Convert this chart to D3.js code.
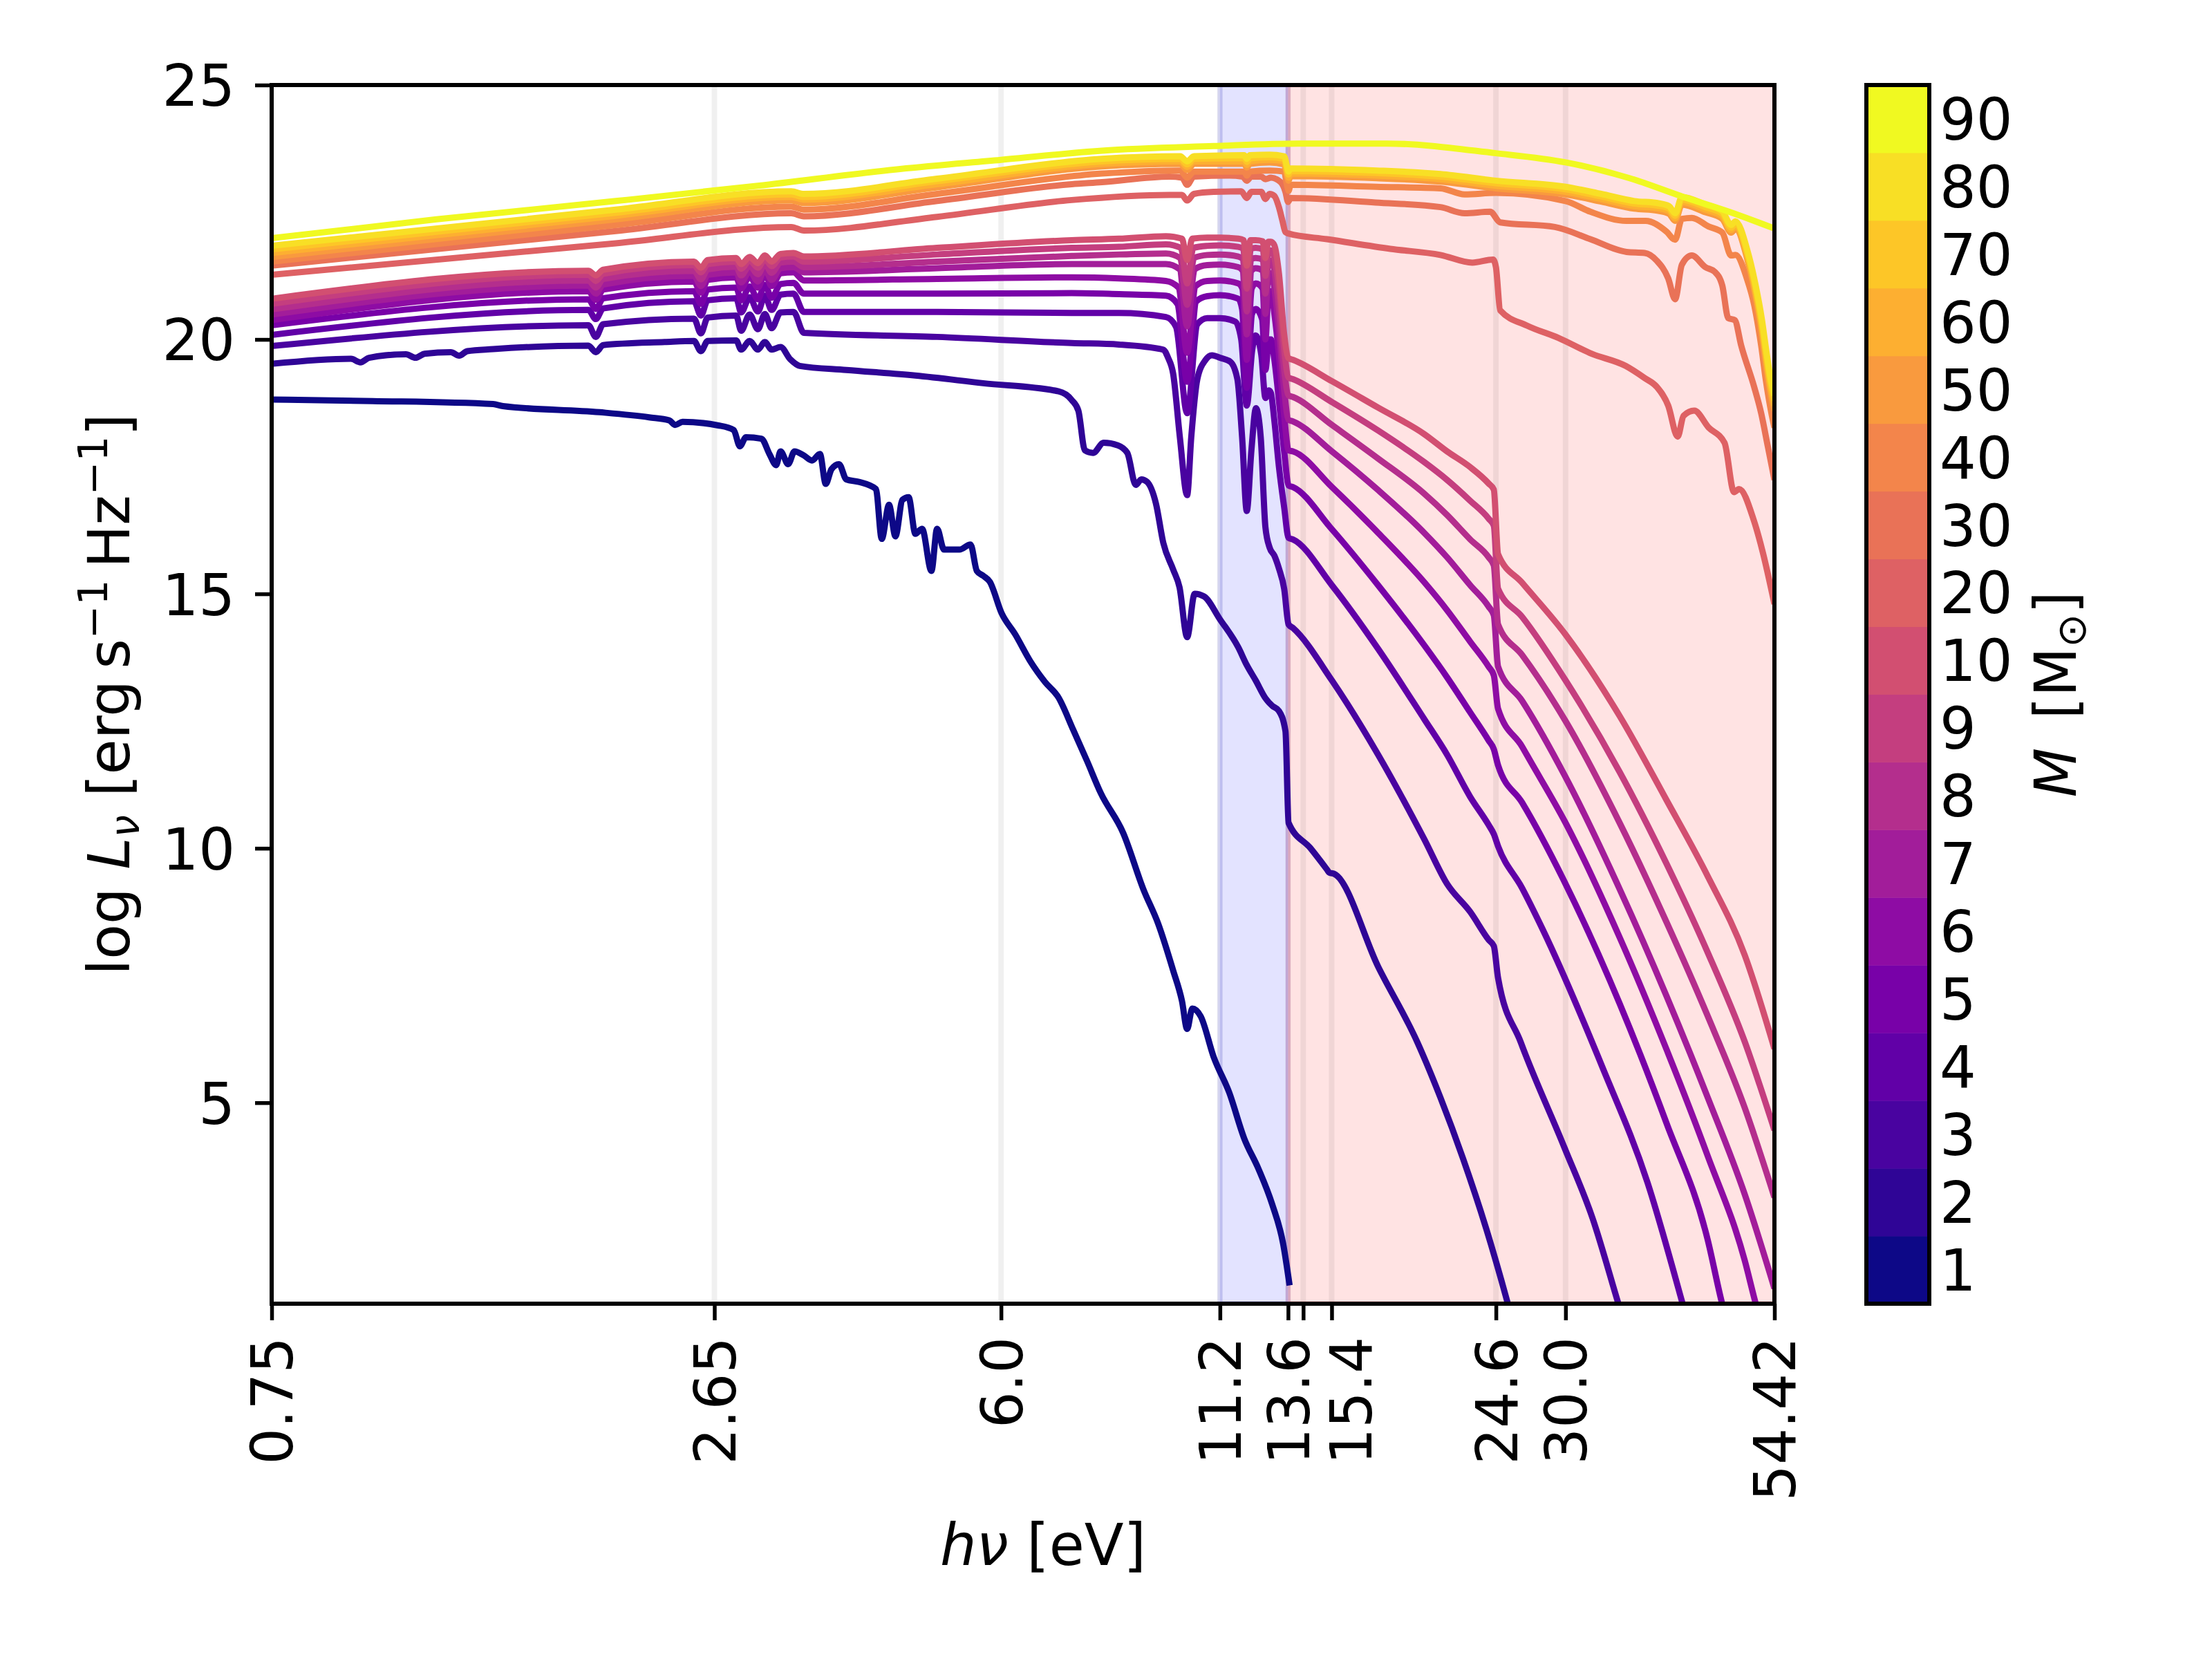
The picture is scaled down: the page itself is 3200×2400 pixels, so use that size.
<!DOCTYPE html>
<html>
<head>
<meta charset="utf-8">
<script src="https://cdn.jsdelivr.net/npm/d3@7"></script>
<style>
  body { margin: 0; background: #fff; }
  text { font-family: "DejaVu Sans", sans-serif; }
</style>
</head>
<body>
<div id="chart"></div>
<script>
// stellar masses shown by the colour bar (M_sun)
const masses = [1, 2, 3, 4, 5, 6, 7, 8, 9, 10, 20, 30, 40, 50, 60, 70, 80, 90];

// x ticks (eV) and labels, y ticks, vertical guide lines, shaded bands
const xTicks = [0.75, 2.65, 6.0, 11.2, 13.6, 14.2, 15.4, 24.6, 30.0, 54.42];
const xTickLabels = ["0.75", "2.65", "6.0", "11.2", "13.6", "", "15.4", "24.6", "30.0", "54.42"];
const yTicks = [5, 10, 15, 20, 25];
const guideLines = [2.65, 6.0, 11.2, 13.6, 14.2, 15.4, 24.6, 30.0];
const lwBand = [11.2, 13.6];
const euvBand = [13.6, 54.42];

// spectra: [h nu (eV), log L_nu]
const lum_1 = [[0.75,18.82],[1.0,18.79],[1.41,18.73],[1.45,18.69],[1.91,18.57],[2.2,18.47],[2.33,18.41],[2.37,18.32],[2.42,18.38],[2.68,18.31],[2.8,18.22],[2.85,17.9],[2.9,18.08],[3.03,18.05],[3.1,17.75],[3.16,17.53],[3.2,17.8],[3.27,17.55],[3.33,17.8],[3.42,17.72],[3.5,17.62],[3.58,17.75],[3.64,17.16],[3.7,17.45],[3.78,17.55],[3.86,17.25],[4.0,17.2],[4.2,17.06],[4.27,16.08],[4.36,16.75],[4.44,16.13],[4.53,16.85],[4.61,16.9],[4.7,16.18],[4.79,16.28],[4.92,15.45],[5.0,16.28],[5.1,15.87],[5.33,15.87],[5.5,15.97],[5.6,15.45],[5.71,15.35],[5.81,15.24],[6.01,14.62],[6.25,14.2],[6.52,13.68],[6.8,13.27],[7.07,12.96],[7.37,12.33],[7.67,11.71],[7.97,11.09],[8.5,10.3],[9.0,9.2],[9.4,8.5],[9.8,7.6],[10.05,7.0],[10.2,6.45],[10.35,6.85],[10.6,6.7],[11.0,5.9],[11.5,5.2],[12.0,4.3],[12.5,3.7],[13.0,3.0],[13.41,2.23],[13.66,1.41]];
const lum_2 = [[0.75,19.52],[0.94,19.62],[0.966,19.55],[0.99,19.64],[1.1,19.71],[1.13,19.64],[1.16,19.72],[1.25,19.75],[1.28,19.68],[1.31,19.77],[1.41,19.81],[1.85,19.88],[1.89,19.75],[1.93,19.89],[2.3,19.95],[2.5,19.97],[2.55,19.77],[2.6,19.97],[2.82,19.98],[2.86,19.8],[2.93,19.97],[3.0,19.8],[3.06,19.95],[3.12,19.8],[3.2,19.85],[3.29,19.61],[3.38,19.48],[3.86,19.4],[4.7,19.29],[5.7,19.14],[7.07,18.98],[7.34,18.81],[7.48,18.6],[7.62,17.82],[7.8,17.77],[8.04,17.97],[8.37,17.92],[8.6,17.77],[8.81,17.14],[8.95,17.25],[9.1,17.2],[9.33,16.78],[9.53,16.0],[9.8,15.48],[9.98,15.13],[10.2,14.15],[10.42,15.0],[10.7,14.95],[11.2,14.5],[11.8,13.95],[12.09,13.6],[12.4,13.3],[12.75,12.95],[13.0,12.8],[13.25,12.7],[13.5,12.3],[13.62,10.5],[14.5,10.0],[15.2,9.58],[15.3,9.52],[15.5,9.5],[17.6,7.66],[19.66,6.19],[21.0,5.1],[22.4,3.9],[23.9,2.55],[25.4,1.1],[26.5,0.0]];
const lum_3 = [[0.75,19.87],[1.85,20.28],[1.89,20.05],[1.93,20.3],[2.5,20.41],[2.55,20.12],[2.6,20.43],[2.82,20.47],[2.86,20.17],[2.93,20.49],[3.0,20.2],[3.06,20.5],[3.12,20.22],[3.2,20.53],[3.32,20.54],[3.42,20.13],[5.0,20.05],[7.34,19.93],[8.4,19.9],[9.53,19.8],[9.66,19.64],[9.8,19.33],[9.99,18.08],[10.2,16.94],[10.32,18.08],[10.5,19.22],[10.74,19.59],[10.95,19.69],[11.2,19.64],[11.54,19.56],[11.77,19.22],[11.93,18.08],[12.09,16.63],[12.25,17.82],[12.41,18.65],[12.58,18.08],[12.75,16.31],[12.91,15.9],[13.08,15.75],[13.25,15.5],[13.45,15.1],[13.62,14.4],[13.79,14.33],[15.41,13.3],[17.58,11.84],[20.05,10.18],[21.4,9.3],[22.86,8.75],[24.1,8.2],[24.45,8.08],[24.75,7.45],[26.4,6.19],[29.9,4.12],[32.4,2.73],[34.8,1.1],[36.5,0.0]];
const lum_4 = [[0.75,20.09],[1.85,20.58],[1.89,20.4],[1.93,20.61],[2.5,20.75],[2.55,20.47],[2.6,20.77],[2.82,20.81],[2.86,20.53],[2.93,20.83],[3.0,20.55],[3.06,20.86],[3.12,20.58],[3.2,20.88],[3.32,20.9],[3.42,20.54],[5.0,20.54],[7.34,20.52],[8.4,20.52],[9.6,20.44],[9.88,20.25],[10.2,18.55],[10.5,20.3],[10.8,20.42],[11.2,20.42],[11.7,20.35],[11.9,20.0],[12.09,18.7],[12.28,19.8],[12.4,20.08],[12.6,19.7],[12.75,18.85],[12.88,19.0],[12.95,18.95],[13.08,18.4],[13.25,17.5],[13.45,16.7],[13.62,16.1],[13.79,16.07],[15.41,15.17],[17.58,13.92],[20.05,12.54],[21.4,11.84],[22.86,11.01],[24.09,10.46],[24.45,10.28],[24.75,10.04],[26.5,9.22],[28.1,8.41],[33.3,5.71],[37.9,3.43],[41.8,1.1],[44.0,-0.2]];
const lum_5 = [[0.75,20.28],[1.85,20.79],[1.89,20.6],[1.93,20.81],[2.5,20.95],[2.55,20.7],[2.6,20.98],[2.82,21.02],[2.86,20.77],[2.93,21.04],[3.0,20.79],[3.06,21.07],[3.12,20.82],[3.2,21.09],[3.32,21.11],[3.42,20.9],[5.0,20.9],[7.34,20.91],[8.4,20.89],[9.6,20.86],[9.92,20.7],[10.2,19.17],[10.47,20.75],[10.8,20.85],[11.2,20.87],[11.8,20.8],[11.93,20.6],[12.09,19.05],[12.27,20.5],[12.4,20.6],[12.63,20.4],[12.75,19.4],[12.88,20.0],[12.95,20.0],[13.08,19.6],[13.25,18.8],[13.45,17.8],[13.62,17.13],[13.79,17.1],[15.41,16.27],[17.58,15.17],[20.05,13.99],[21.4,13.36],[22.86,12.67],[24.09,12.12],[24.45,11.95],[24.75,11.63],[26.5,10.9],[30.0,9.3],[35.0,6.95],[40.0,4.6],[45.0,2.3],[46.8,1.1],[50.0,-0.4]];
const lum_6 = [[0.75,20.38],[1.85,20.95],[1.89,20.78],[1.93,20.98],[2.5,21.14],[2.55,20.92],[2.6,21.17],[2.82,21.22],[2.86,21.0],[2.93,21.24],[3.0,21.02],[3.06,21.27],[3.12,21.05],[3.2,21.3],[3.32,21.32],[3.42,21.16],[5.0,21.19],[7.34,21.22],[8.4,21.2],[9.6,21.15],[9.95,21.02],[10.2,19.74],[10.45,21.05],[10.8,21.15],[11.2,21.16],[11.8,21.1],[11.94,21.0],[12.09,19.6],[12.26,21.0],[12.4,21.1],[12.65,21.0],[12.75,20.0],[12.87,20.95],[12.95,20.95],[13.08,20.5],[13.25,19.7],[13.45,18.5],[13.62,17.82],[13.79,17.8],[15.41,17.1],[17.58,16.2],[20.05,15.23],[21.4,14.68],[22.86,14.06],[24.09,13.57],[24.45,13.4],[24.75,12.74],[26.5,12.0],[27.1,11.73],[30.0,10.5],[35.0,8.25],[40.0,6.05],[45.0,3.95],[50.0,1.9],[51.5,1.1],[54.42,-0.2]];
const lum_7 = [[0.75,20.49],[1.85,21.06],[1.89,20.9],[1.93,21.08],[2.5,21.25],[2.55,21.05],[2.6,21.27],[2.82,21.32],[2.86,21.12],[2.93,21.34],[3.0,21.14],[3.06,21.37],[3.12,21.17],[3.2,21.4],[3.32,21.42],[3.42,21.32],[5.0,21.4],[7.34,21.48],[8.4,21.48],[9.6,21.48],[9.98,21.38],[10.2,20.26],[10.42,21.38],[10.8,21.46],[11.2,21.47],[11.8,21.42],[11.95,21.35],[12.09,20.1],[12.25,21.35],[12.4,21.4],[12.66,21.35],[12.75,20.5],[12.86,21.3],[12.95,21.3],[13.08,21.0],[13.25,20.2],[13.45,19.0],[13.62,18.42],[13.79,18.39],[15.41,17.8],[17.58,17.04],[20.05,16.2],[21.4,15.72],[22.86,15.17],[24.09,14.75],[24.45,14.58],[24.75,13.57],[26.5,12.9],[30.0,11.4],[35.0,9.2],[40.0,7.1],[45.0,5.1],[50.0,3.2],[54.42,1.35]];
const lum_8 = [[0.75,20.59],[1.85,21.16],[1.89,21.02],[1.93,21.19],[2.5,21.35],[2.55,21.18],[2.6,21.38],[2.82,21.43],[2.86,21.26],[2.93,21.45],[3.0,21.28],[3.06,21.48],[3.12,21.31],[3.2,21.51],[3.32,21.53],[3.42,21.42],[5.0,21.53],[7.34,21.64],[8.4,21.67],[9.6,21.69],[10.0,21.6],[10.2,20.68],[10.4,21.6],[10.8,21.66],[11.2,21.67],[11.8,21.63],[11.96,21.58],[12.09,20.55],[12.24,21.58],[12.4,21.6],[12.66,21.57],[12.75,20.9],[12.86,21.55],[12.95,21.55],[13.08,21.35],[13.25,20.6],[13.45,19.4],[13.62,18.9],[13.79,18.87],[15.41,18.32],[17.58,17.66],[20.05,16.97],[21.4,16.55],[22.86,16.07],[24.09,15.72],[24.45,15.56],[24.75,14.4],[26.5,13.8],[30.0,12.5],[35.0,10.5],[40.0,8.55],[45.0,6.7],[50.0,4.9],[54.42,3.14]];
const lum_9 = [[0.75,20.7],[1.85,21.27],[1.89,21.15],[1.93,21.29],[2.5,21.46],[2.55,21.32],[2.6,21.48],[2.82,21.53],[2.86,21.39],[2.93,21.55],[3.0,21.41],[3.06,21.58],[3.12,21.44],[3.2,21.61],[3.32,21.63],[3.42,21.53],[5.0,21.67],[7.34,21.8],[8.4,21.82],[9.6,21.87],[10.02,21.8],[10.2,21.1],[10.38,21.8],[10.8,21.84],[11.2,21.85],[11.8,21.82],[11.97,21.78],[12.09,21.0],[12.23,21.78],[12.4,21.8],[12.66,21.77],[12.75,21.25],[12.86,21.75],[12.95,21.75],[13.08,21.6],[13.25,21.0],[13.45,19.8],[13.62,19.25],[13.79,19.22],[15.41,18.77],[17.58,18.21],[20.05,17.59],[21.4,17.24],[22.86,16.83],[24.09,16.48],[24.45,16.34],[24.75,15.1],[26.5,14.55],[30.0,13.3],[35.0,11.5],[40.0,9.7],[45.0,7.95],[50.0,6.2],[54.42,4.46]];
const lum_10 = [[0.75,20.8],[1.85,21.35],[1.89,21.26],[1.93,21.37],[2.5,21.53],[2.55,21.41],[2.6,21.56],[2.82,21.6],[2.86,21.48],[2.93,21.62],[3.0,21.5],[3.06,21.65],[3.12,21.53],[3.2,21.68],[3.32,21.7],[3.42,21.63],[5.0,21.8],[7.34,21.95],[8.4,21.98],[9.6,22.03],[10.05,21.98],[10.2,21.56],[10.35,21.98],[10.8,22.0],[11.2,22.0],[11.8,21.98],[11.98,21.95],[12.09,21.45],[12.22,21.95],[12.4,21.95],[12.65,21.93],[12.75,21.6],[12.85,21.92],[12.95,21.92],[13.08,21.85],[13.25,21.3],[13.45,20.1],[13.62,19.63],[13.79,19.6],[15.41,19.18],[17.58,18.66],[20.05,18.14],[21.4,17.8],[22.86,17.49],[24.09,17.17],[24.45,17.05],[24.75,15.78],[26.5,15.22],[30.0,14.2],[35.0,12.6],[40.0,10.95],[45.0,9.45],[50.0,7.9],[54.42,6.06]];
const lum_20 = [[0.75,21.27],[2.0,21.89],[3.3,22.21],[3.42,22.14],[5.0,22.41],[7.34,22.74],[9.7,22.84],[10.05,22.84],[10.2,22.73],[10.4,22.86],[11.0,22.9],[11.9,22.91],[12.09,22.78],[12.25,22.9],[12.6,22.9],[12.75,22.76],[12.9,22.86],[13.08,22.82],[13.25,22.6],[13.38,22.34],[13.5,22.11],[13.62,22.08],[15.2,21.97],[18.2,21.78],[21.0,21.66],[23.0,21.51],[24.4,21.57],[24.6,21.42],[24.9,20.57],[26.9,20.27],[29.4,20.03],[32.3,19.72],[35.6,19.48],[37.6,19.24],[38.9,19.07],[40.2,18.7],[41.3,18.09],[42.0,18.5],[43.3,18.6],[45.1,18.27],[47.2,17.97],[48.5,17.0],[49.2,17.06],[51.3,16.45],[52.6,15.84],[54.42,14.8]];
const lum_30 = [[0.75,21.45],[2.0,22.13],[3.3,22.48],[3.42,22.42],[5.0,22.72],[7.34,23.05],[8.0,23.09],[9.7,23.2],[10.05,23.18],[10.2,23.04],[10.4,23.2],[11.5,23.22],[11.95,23.2],[12.09,23.12],[12.25,23.2],[12.6,23.2],[12.75,23.15],[12.95,23.18],[13.3,23.1],[13.5,22.9],[13.6,22.7],[13.7,22.78],[17.45,22.69],[21.0,22.6],[22.5,22.48],[24.2,22.51],[24.9,22.3],[29.1,22.21],[32.2,21.97],[35.7,21.72],[37.6,21.7],[38.9,21.55],[40.2,21.2],[41.0,20.79],[41.8,21.47],[43.0,21.65],[44.7,21.42],[45.9,21.33],[46.9,21.06],[47.7,20.42],[48.6,20.38],[49.5,19.88],[51.4,19.05],[52.4,18.55],[53.4,17.9],[54.42,17.24]];
const lum_40 = [[0.75,21.53],[2.0,22.25],[3.3,22.61],[3.42,22.55],[5.0,22.86],[8.0,23.26],[10.0,23.32],[10.2,23.18],[10.4,23.3],[12.0,23.3],[12.09,23.22],[12.2,23.3],[12.9,23.32],[13.45,23.3],[13.55,23.05],[13.62,22.92],[13.7,23.04],[17.5,23.0],[21.0,22.97],[22.5,22.85],[24.6,22.88],[30.0,22.72],[32.2,22.51],[35.7,22.33],[37.7,22.33],[40.0,22.12],[41.0,21.96],[41.8,22.37],[43.0,22.39],[45.1,22.22],[46.9,22.1],[48.1,21.65],[48.7,21.66],[50.3,21.2],[51.4,20.66],[52.4,19.88],[53.1,19.2],[54.0,18.52],[54.42,18.27]];
const lum_50 = [[0.75,21.62],[2.0,22.36],[3.3,22.73],[3.42,22.68],[5.0,22.99],[8.0,23.4],[10.0,23.45],[10.2,23.33],[10.4,23.45],[12.0,23.45],[12.09,23.38],[12.2,23.45],[12.9,23.48],[13.45,23.44],[13.55,23.24],[13.62,23.12],[13.7,23.21],[17.5,23.17],[21.0,23.1],[24.6,22.97],[30.0,22.85],[33.2,22.71],[36.5,22.57],[39.0,22.53],[40.3,22.47],[41.0,22.33],[41.8,22.65],[44.7,22.5],[46.9,22.37],[48.1,22.1],[48.7,22.17],[50.4,21.56],[51.6,20.82],[52.5,20.12],[53.2,19.45],[53.8,18.95],[54.42,18.6]];
const lum_60 = [[0.75,21.7],[2.0,22.43],[3.3,22.8],[3.42,22.75],[5.0,23.05],[8.0,23.45],[10.0,23.5],[10.2,23.39],[10.4,23.5],[12.0,23.5],[12.09,23.43],[12.2,23.5],[12.9,23.53],[13.45,23.5],[13.55,23.3],[13.62,23.18],[13.7,23.26],[17.5,23.22],[21.0,23.15],[24.6,23.02],[30.0,22.9],[33.2,22.76],[36.5,22.62],[39.0,22.58],[40.3,22.52],[41.0,22.38],[41.8,22.7],[44.7,22.55],[46.9,22.42],[48.1,22.15],[48.7,22.22],[50.4,21.62],[51.6,20.9],[52.5,20.22],[53.2,19.55],[53.8,19.05],[54.42,18.7]];
const lum_70 = [[0.75,21.77],[2.0,22.49],[3.3,22.85],[3.42,22.8],[5.0,23.11],[8.0,23.5],[10.0,23.55],[10.2,23.44],[10.4,23.55],[12.0,23.56],[12.09,23.49],[12.2,23.56],[12.9,23.58],[13.45,23.55],[13.55,23.36],[13.62,23.24],[13.7,23.31],[17.5,23.27],[21.0,23.2],[24.6,23.07],[30.0,22.95],[33.2,22.81],[36.5,22.67],[39.0,22.63],[40.3,22.57],[41.0,22.43],[41.8,22.75],[44.7,22.6],[46.9,22.47],[48.1,22.2],[48.7,22.27],[50.4,21.68],[51.6,20.98],[52.5,20.3],[53.2,19.65],[53.8,19.15],[54.42,18.8]];
const lum_80 = [[0.75,21.84],[2.0,22.55],[3.3,22.91],[3.42,22.86],[5.0,23.16],[8.0,23.55],[10.0,23.6],[10.2,23.5],[10.4,23.6],[12.0,23.62],[12.09,23.55],[12.2,23.62],[12.9,23.63],[13.45,23.6],[13.55,23.42],[13.62,23.3],[13.7,23.36],[17.5,23.32],[21.0,23.25],[24.6,23.12],[30.0,23.0],[33.2,22.86],[36.5,22.72],[39.0,22.68],[40.3,22.62],[41.0,22.48],[41.8,22.8],[44.7,22.65],[46.9,22.52],[48.1,22.25],[48.7,22.32],[50.4,21.74],[51.6,21.05],[52.5,20.4],[53.2,19.75],[53.8,19.25],[54.42,18.9]];
const lum_90 = [[0.75,21.99],[1.2,22.36],[2.0,22.72],[3.0,23.02],[4.5,23.35],[6.0,23.53],[8.0,23.71],[11.0,23.8],[14.0,23.85],[18.0,23.85],[24.6,23.66],[30.0,23.48],[36.0,23.17],[42.0,22.8],[48.0,22.5],[54.42,22.18]];

const spectra = [lum_1, lum_2, lum_3, lum_4, lum_5, lum_6, lum_7, lum_8, lum_9, lum_10,
                 lum_20, lum_30, lum_40, lum_50, lum_60, lum_70, lum_80, lum_90];

const W = 3200, H = 2400;
const plot = { left: 393, right: 2567, top: 123, bottom: 1886 };
const cbar = { left: 2700, right: 2791 };
const fs = 83;

const svg = d3.select("#chart").append("svg")
    .attr("width", W).attr("height", H)
    .attr("viewBox", [0, 0, W, H])
    .style("background", "#fff");

const x = d3.scaleLog().domain([0.75, 54.42]).range([plot.left, plot.right]);
const y = d3.scaleLinear().domain([1.05, 25]).range([plot.bottom, plot.top]);
const color = (i) => d3.interpolatePlasma(i / (masses.length - 1));

svg.append("clipPath").attr("id", "plotclip")
  .append("rect")
    .attr("x", plot.left).attr("y", plot.top)
    .attr("width", plot.right - plot.left).attr("height", plot.bottom - plot.top);

const area = svg.append("g").attr("clip-path", "url(#plotclip)");

// shaded bands (LW and ionising)
[[lwBand, "rgba(0,0,255,0.11)"], [euvBand, "rgba(255,0,0,0.11)"]].forEach(([b, c]) => {
  area.append("rect")
      .attr("x", x(b[0])).attr("y", plot.top)
      .attr("width", x(b[1]) - x(b[0])).attr("height", plot.bottom - plot.top)
      .attr("fill", c).attr("stroke", c).attr("stroke-width", 7);
});

// faint vertical guide lines
area.append("g").selectAll("line")
  .data(guideLines)
  .join("line")
    .attr("x1", d => x(d)).attr("x2", d => x(d))
    .attr("y1", plot.top).attr("y2", plot.bottom)
    .attr("stroke", "rgba(0,0,0,0.06)")
    .attr("stroke-width", 8);

// spectra
const line = d3.line()
    .curve(d3.curveMonotoneX)
    .x(d => x(d[0]))
    .y(d => y(d[1]));

area.append("g").selectAll("path")
  .data(spectra)
  .join("path")
    .attr("d", line)
    .attr("fill", "none")
    .attr("stroke", (d, i) => color(i))
    .attr("stroke-width", 9)
    .attr("stroke-linejoin", "round");

// frame
svg.append("rect")
    .attr("x", plot.left).attr("y", plot.top)
    .attr("width", plot.right - plot.left).attr("height", plot.bottom - plot.top)
    .attr("fill", "none").attr("stroke", "#000").attr("stroke-width", 6);

// x axis
const gx = svg.append("g")
    .attr("transform", `translate(0,${plot.bottom})`)
    .call(d3.axisBottom(x).tickValues(xTicks).tickFormat((d, i) => xTickLabels[i]).tickSize(24));
gx.select(".domain").remove();
gx.selectAll(".tick line").attr("stroke", "#000").attr("stroke-width", 5.5);
gx.selectAll(".tick text")
    .attr("transform", "rotate(-90)")
    .attr("x", -48)
    .attr("y", d => d === 15.4 ? 27 : 0)   // the 15.4 label sits a little right of its tick
    .attr("dy", "0.36em")
    .attr("text-anchor", "end")
    .attr("fill", "#000")
    .style("font-size", fs + "px")
    .style("font-family", "DejaVu Sans");

// y axis
const gy = svg.append("g")
    .attr("transform", `translate(${plot.left},0)`)
    .call(d3.axisLeft(y).tickValues(yTicks).tickSize(24).tickPadding(29));
gy.select(".domain").remove();
gy.selectAll(".tick line").attr("stroke", "#000").attr("stroke-width", 5.5);
gy.selectAll(".tick text")
    .attr("dy", "0.36em")
    .attr("fill", "#000")
    .style("font-size", fs + "px")
    .style("font-family", "DejaVu Sans");

// axis labels
const xl = svg.append("text")
    .attr("x", 1509).attr("y", 2264)
    .attr("text-anchor", "middle")
    .style("font-size", fs + "px");
xl.append("tspan").style("font-style", "italic").text("hν");
xl.append("tspan").text(" [eV]");

const yl = svg.append("text")
    .attr("transform", `translate(187,${(plot.top + plot.bottom) / 2}) rotate(-90)`)
    .attr("text-anchor", "middle")
    .style("font-size", fs + "px");
yl.append("tspan").text("log ");
yl.append("tspan").style("font-style", "italic").text("L");
yl.append("tspan").style("font-style", "italic").style("font-size", "58px").attr("dy", 14).text("ν");
yl.append("tspan").attr("dy", -14).text(" [erg\u2009s");
yl.append("tspan").style("font-size", "58px").attr("dy", -32).text("−1");
yl.append("tspan").attr("dy", 32).text("\u2009Hz");
yl.append("tspan").style("font-size", "58px").attr("dy", -32).text("−1");
yl.append("tspan").attr("dy", 32).text("]");

// colour bar
const band = d3.scaleBand().domain(masses).range([plot.bottom, plot.top]);
const cb = svg.append("g");
cb.selectAll("rect")
  .data(masses)
  .join("rect")
    .attr("x", cbar.left).attr("y", d => band(d))
    .attr("width", cbar.right - cbar.left).attr("height", band.bandwidth() + 0.5)
    .attr("fill", (d, i) => color(i));
cb.append("rect")
    .attr("x", cbar.left).attr("y", plot.top)
    .attr("width", cbar.right - cbar.left).attr("height", plot.bottom - plot.top)
    .attr("fill", "none").attr("stroke", "#000").attr("stroke-width", 6);
cb.selectAll("text")
  .data(masses)
  .join("text")
    .attr("x", 2806).attr("y", d => band(d) + band.bandwidth() / 2)
    .attr("dy", "0.36em")
    .style("font-size", fs + "px")
    .text(d => d);

const cl = svg.append("text")
    .attr("transform", `translate(3003,${(plot.top + plot.bottom) / 2}) rotate(-90)`)
    .attr("text-anchor", "middle")
    .style("font-size", fs + "px");
cl.append("tspan").style("font-style", "italic").text("M");
cl.append("tspan").text("\u2002[M");
cl.append("tspan").style("font-size", "58px").attr("dy", 14).text("⊙");
cl.append("tspan").attr("dy", -14).text("]");
</script>
</body>
</html>
